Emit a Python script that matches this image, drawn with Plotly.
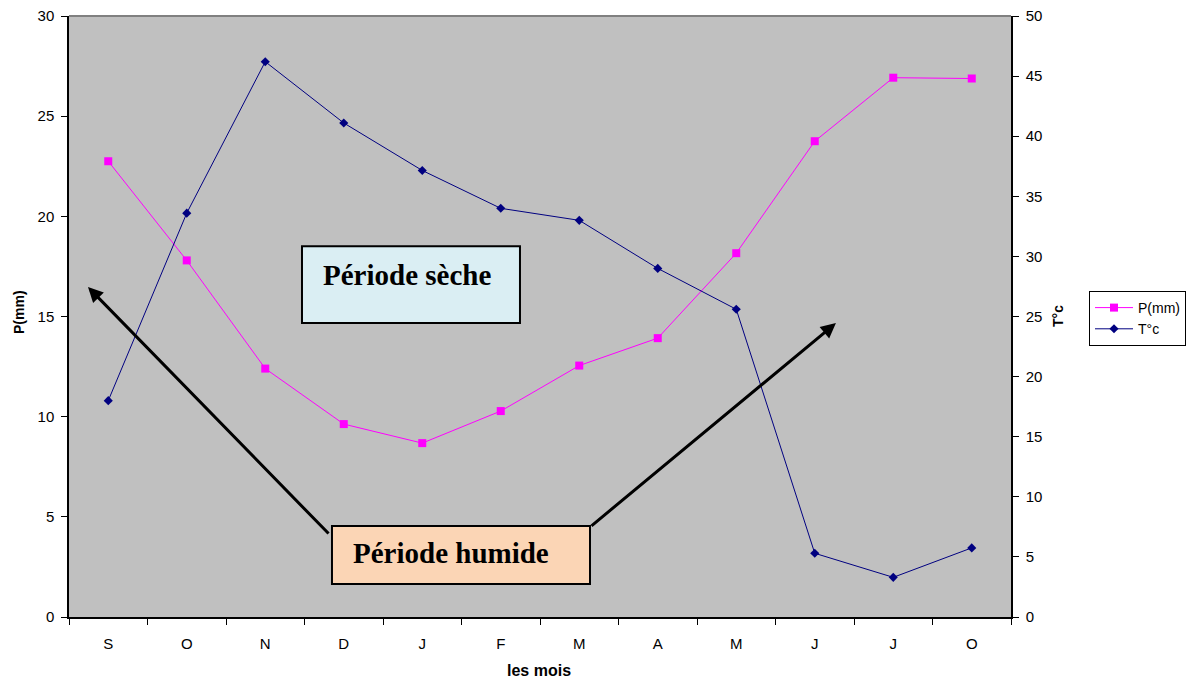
import plotly.graph_objects as go

mois = ["S", "O", "N", "D", "J", "F", "M", "A", "M", "J", "J", "O"]
precip = [22.75, 17.8, 12.4, 9.63, 8.68, 10.28, 12.55, 13.92, 18.16, 23.75, 26.92, 26.88]
temp = [18.0, 33.6, 46.2, 41.1, 37.15, 34.0, 33.0, 29.0, 25.6, 5.3, 3.3, 5.75]

xs = list(range(len(mois)))
FONT = "Liberation Sans, Arial, sans-serif"
SERIF = "Liberation Serif, Times New Roman, serif"

W, H = 1187, 681
l, r, t, b = 69, 176, 16, 64
pw, ph = W - l - r, H - t - b

fig = go.Figure()
fig.add_trace(go.Scatter(
    x=xs, y=precip, name="P(mm)", mode="lines+markers",
    line=dict(color="#FF00FF", width=1),
    marker=dict(symbol="square", size=8, color="#FF00FF"),
))
fig.add_trace(go.Scatter(
    x=xs, y=temp, name="T°c", mode="lines+markers", yaxis="y2",
    line=dict(color="#000080", width=1),
    marker=dict(symbol="diamond", size=7, color="#000080"),
))

boundaries = [i - 0.5 for i in range(len(mois) + 1)]

fig.update_layout(
    width=W, height=H,
    margin=dict(l=l, r=r, t=t, b=b, autoexpand=False),
    paper_bgcolor="white",
    plot_bgcolor="#C0C0C0",
    font=dict(family=FONT, size=15, color="black"),
    showlegend=True,
    legend=dict(
        x=(1089 - l) / pw, y=(H - b - 291) / ph, xanchor="left", yanchor="top",
        bgcolor="white", bordercolor="black", borderwidth=1,
        font=dict(size=14, family=FONT), tracegroupgap=0,
        itemwidth=38,
    ),
    xaxis=dict(
        range=[-0.5, len(mois) - 0.5], automargin=False,
        tickvals=xs, ticktext=mois, ticks="", showgrid=False,
        showline=True, linecolor="black", linewidth=1.5,
        zeroline=False, ticklabelstandoff=12,
        minor=dict(tickvals=boundaries, ticks="outside", ticklen=6,
                   tickcolor="black", tickwidth=1, showgrid=False),
        tickfont=dict(size=15),
    ),
    yaxis=dict(
        range=[0, 30], dtick=5, ticks="outside", ticklen=6, automargin=False,
        tickcolor="black", showgrid=False, zeroline=False,
        showline=True, linecolor="black", linewidth=1.5,
        tickfont=dict(size=15), ticklabelstandoff=4,
    ),
    yaxis2=dict(
        range=[0, 50], dtick=5, overlaying="y", side="right", automargin=False,
        ticks="outside", ticklen=6, tickcolor="black",
        showgrid=False, zeroline=False,
        showline=True, linecolor="black", linewidth=1.5,
        tickfont=dict(size=15), ticklabelstandoff=4,
    ),
)

# plot-area grey border (top)
fig.add_shape(type="line", xref="paper", yref="paper", x0=0, x1=1, y0=1, y1=1,
              line=dict(color="#808080", width=2), layer="above")

# text boxes
fig.add_shape(type="rect", xref="x", yref="y", x0=2.468, x1=5.245, y0=14.67, y1=18.51,
              fillcolor="#DAEEF3", line=dict(color="black", width=2), layer="above")
fig.add_shape(type="rect", xref="x", yref="y", x0=2.85, x1=6.137, y0=1.65, y1=4.54,
              fillcolor="#FBD5B5", line=dict(color="black", width=2), layer="above")


def px2paper(px, py):
    return (px - l) / pw, (H - b - py) / ph


annotations = [
    dict(x=3.81, y=17.05, xref="x", yref="y", text="<b>Période sèche</b>", showarrow=False,
         font=dict(family=SERIF, size=29, color="black")),
    dict(x=4.37, y=3.2, xref="x", yref="y", text="<b>Période humide</b>", showarrow=False,
         font=dict(family=SERIF, size=29, color="black")),
    # arrows
    dict(x=-0.258, y=16.47, ax=2.825, ay=4.09, xref="x", yref="y", axref="x", ayref="y",
         text="", showarrow=True, arrowhead=2, arrowsize=1, arrowwidth=3, arrowcolor="black"),
    dict(x=9.27, y=14.67, ax=6.137, ay=4.49, xref="x", yref="y", axref="x", ayref="y",
         text="", showarrow=True, arrowhead=2, arrowsize=1, arrowwidth=3, arrowcolor="black"),
]

for (px, py, txt, ang, fs) in [(19, 312, "<b>P(mm)</b>", -90, 14),
                               (539, 670, "<b>les mois</b>", 0, 16),
                               (1058, 316, "<b>T°c</b>", -90, 14)]:
    xp, yp = px2paper(px, py)
    annotations.append(dict(x=xp, y=yp, xref="paper", yref="paper", text=txt,
                            xanchor="center", yanchor="middle",
                            showarrow=False, textangle=ang,
                            font=dict(size=fs, family=FONT)))

fig.update_layout(annotations=annotations)

fig.write_html("out.html")
